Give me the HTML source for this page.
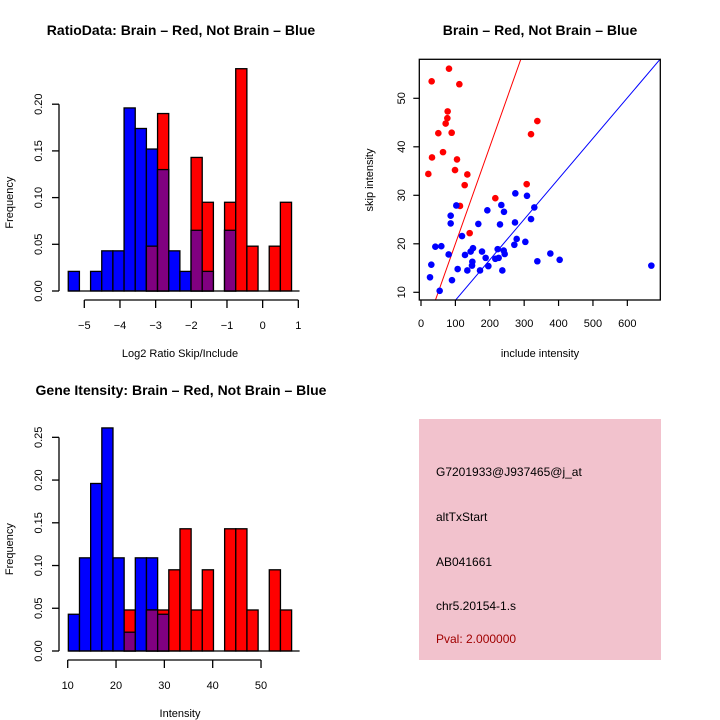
<!DOCTYPE html>
<html><head><meta charset="utf-8"><style>
body{margin:0;background:#fff}
svg{display:block;font-family:"Liberation Sans",sans-serif}
</style></head><body>
<svg id="s" width="720" height="720" viewBox="0 0 720 720">
<rect width="720" height="720" fill="#fff"/>
<g id="p1"></g>
<g id="p2"></g>
<g id="p3"></g>
<g>
<rect x="419" y="419" width="242" height="241" fill="#f2c2cd"/>
<text x="436" y="476" font-size="12">G7201933@J937465@j_at</text>
<text x="436" y="521" font-size="12">altTxStart</text>
<text x="436" y="566" font-size="12">AB041661</text>
<text x="436" y="610" font-size="12">chr5.20154-1.s</text>
<text x="436" y="643" font-size="12" fill="#a00000">Pval: 2.000000</text>
</g>
</svg>
<script>
// Histogram 1 data
const h1Blue=[0.021,0,0.021,0.043,0.043,0.196,0.174,0.152,0.13,0.043,0.021,0.065,0.021,0,0.065,0,0,0,0,0];
const h1Red=[0,0,0,0,0,0,0,0.048,0.19,0,0,0.143,0.095,0,0.095,0.238,0.048,0,0.048,0.095];
const h1Ticks=[-5,-4,-3,-2,-1,0,1];
const h1YTicks=[0,0.05,0.1,0.15,0.2];
// Histogram 2 data
const h2Blue=[0.043,0.109,0.196,0.261,0.109,0.022,0.109,0.109,0.043,0,0,0,0,0,0,0,0,0,0,0];
const h2Red=[0,0,0,0,0,0.048,0,0.048,0.048,0.095,0.143,0.048,0.095,0,0.143,0.143,0.048,0,0.095,0.048];
const h2Ticks=[10,20,30,40,50];
const h2YTicks=[0,0.05,0.1,0.15,0.2,0.25];
// Scatter data
const redX=[81.4,31,111.5,77.5,76.6,71.7,50.4,89.2,338.3,319.9,32,64,104.7,98.9,21.3,134.7,127,307.3,216.1,113.4,141.5];
const redY=[56.1,53.5,52.9,47.3,45.9,44.8,42.8,42.9,45.3,42.6,37.8,38.9,37.4,35.2,34.4,34.3,32.1,32.3,29.4,27.8,22.2];
const blueX=[26.2,30,41.7,59.1,54.3,80.4,90.1,86.3,86.3,102.7,106.6,119.2,127.9,134.7,144.4,151.2,149.3,148.3,166.7,171.6,177.4,188,192.9,195.8,216.1,223,225.8,229.7,233.6,236.5,241.3,240.4,243.3,271.4,273.3,274.3,278.2,303.4,308.2,319.9,329.5,338.3,376.1,403.2,669.8];
const blueY=[13.1,15.7,19.4,19.5,10.3,17.8,12.5,24.2,25.8,27.9,14.8,21.6,17.7,14.5,18.4,19.1,16.3,15.5,24.1,14.5,18.4,17.1,26.9,15.4,16.9,18.9,17.1,24,28,14.5,26.6,18.6,17.9,19.8,24.4,30.4,21,20.4,29.9,25.1,27.5,16.4,18,16.7,15.5];
const scXTicks=[0,100,200,300,400,500,600];
const scYTicks=[10,20,30,40,50];
const redSlope=0.2, blueSlope=0.0835;

const NS="http://www.w3.org/2000/svg";
function mk(parent,tag,attrs,txt){const e=document.createElementNS(NS,tag);for(const k in attrs)e.setAttribute(k,attrs[k]);if(txt!==undefined)e.textContent=txt;parent.appendChild(e);return e;}

function hist(g,blue,red,x0,bw,xs,ys,xTicks,yTicks,title,xlab,titleY){
  const base=ys(0);
  for(let i=0;i<blue.length;i++){
    const xa=xs(x0+i*bw), xb=xs(x0+(i+1)*bw);
    if(blue[i]>0){const r=mk(g,'rect',{x:xa,y:ys(blue[i]),width:xb-xa,height:base-ys(blue[i]),fill:'#0000ff',stroke:'#000','stroke-width':1.3});
      
      }
    if(red[i]>0){const r=mk(g,'rect',{x:xa,y:ys(red[i]),width:xb-xa,height:base-ys(red[i]),fill:'#ff0000',stroke:'#000','stroke-width':1.3});
      
      }
    const m=Math.min(blue[i],red[i]);
    if(m>0){const r=mk(g,'rect',{x:xa,y:ys(m),width:xb-xa,height:base-ys(m),fill:'#800080',stroke:'#000','stroke-width':1.3});
      
      }
  }
  mk(g,'line',{x1:xs(x0),x2:xs(x0+bw*blue.length)+8,y1:base,y2:base,stroke:'#000','stroke-width':1.3});
  // y axis
  const ya=mk(g,'g',{});
  
  
  mk(ya,'line',{x1:59,x2:59,y1:ys(yTicks[0]),y2:ys(yTicks[yTicks.length-1]),stroke:'#000','stroke-width':1.3});
  yTicks.forEach(t=>{const y=ys(t);mk(ya,'line',{x1:52,x2:59,y1:y,y2:y,stroke:'#000','stroke-width':1.3});
    const tx=mk(ya,'text',{x:0,y:0,'font-size':11,'text-anchor':'middle',transform:`translate(42,${y}) rotate(-90)`},t.toFixed(2));
    
    });
  const xa=mk(g,'g',{});
  
  
  const ay=base+9;
  mk(xa,'line',{x1:xs(xTicks[0]),x2:xs(xTicks[xTicks.length-1]),y1:ay,y2:ay,stroke:'#000','stroke-width':1.3});
  xTicks.forEach(t=>{const x=xs(t);mk(xa,'line',{x1:x,x2:x,y1:ay,y2:ay+8,stroke:'#000','stroke-width':1.3});
    const tx=mk(xa,'text',{x:x,y:ay+29,'font-size':11,'text-anchor':'middle'},t<0?'\u2212'+(-t):String(t));
    
    });
  const xl=mk(g,'text',{x:180,y:ay+57,'font-size':11,'text-anchor':'middle'},xlab);
  
  
  const yl=mk(g,'text',{x:0,y:0,'font-size':11,'text-anchor':'middle',transform:`translate(13,${(ys(0)+ys(yTicks[yTicks.length-1]))/2+5}) rotate(-90)`},'Frequency');
  
  
  const tl=mk(g,'text',{x:181,y:titleY,'font-size':14,'font-weight':'bold','text-anchor':'middle'},title);
  
  
}
// panel 1
{const xs=v=>84.3+(v+5)*35.67, ys=v=>291-v*934;
 hist(document.getElementById('p1'),h1Blue,h1Red,-5.45,0.313,xs,ys,h1Ticks,h1YTicks,'RatioData: Brain \u2013 Red, Not Brain \u2013 Blue','Log2 Ratio Skip/Include',35);}
// panel 3
{const xs=v=>67.7+(v-10)*4.833, ys=v=>651-v*854.7;
 hist(document.getElementById('p3'),h2Blue,h2Red,10.13,2.31,xs,ys,h2Ticks,h2YTicks,'Gene Itensity: Brain \u2013 Red, Not Brain \u2013 Blue','Intensity',395);}
// scatter
{const g=document.getElementById('p2');
 const xs=v=>421+v*0.3439, ys=v=>292.3-(v-10)*4.85;
 const L=419.3,R=660.3,T=59.3,B=300;
 mk(g,'defs',{}).innerHTML='<clipPath id="cp"><rect x="419.3" y="59.3" width="241" height="240.7"/></clipPath>';
 const lg=mk(g,'g',{'clip-path':'url(#cp)'});
 const rl=mk(lg,'line',{x1:xs(0),y1:ys(0),x2:xs(700),y2:ys(700*redSlope),stroke:'#ff0000','stroke-width':1});
 
 
 const bl=mk(lg,'line',{x1:xs(0),y1:ys(0),x2:xs(700),y2:ys(700*blueSlope),stroke:'#0000ff','stroke-width':1});
 
 
 redX.forEach((x,i)=>{const c=mk(g,'circle',{cx:xs(x),cy:ys(redY[i]),r:3.3,fill:'#ff0000'});
   
   });
 blueX.forEach((x,i)=>{const c=mk(g,'circle',{cx:xs(x),cy:ys(blueY[i]),r:3.3,fill:'#0000ff'});
   
   });
 mk(g,'rect',{x:L,y:T,width:R-L,height:B-T,fill:'none',stroke:'#000','stroke-width':1.3});
 scXTicks.forEach(t=>{const x=xs(t);mk(g,'line',{x1:x,x2:x,y1:B,y2:B+6,stroke:'#000','stroke-width':1.2});
   const tx=mk(g,'text',{x:x,y:327,'font-size':11,'text-anchor':'middle'},String(t));
   
   });
 scYTicks.forEach(t=>{const y=ys(t);mk(g,'line',{x1:L-6,x2:L,y1:y,y2:y,stroke:'#000','stroke-width':1.2});
   const tx=mk(g,'text',{x:0,y:0,'font-size':11,'text-anchor':'middle',transform:`translate(405,${y}) rotate(-90)`},String(t));
   
   });
 const xl=mk(g,'text',{x:540,y:357,'font-size':11,'text-anchor':'middle'},'include intensity');
 
 
 const yl=mk(g,'text',{x:0,y:0,'font-size':11,'text-anchor':'middle',transform:'translate(373,180) rotate(-90)'},'skip intensity');
 
 
 const tl=mk(g,'text',{x:540,y:35,'font-size':14,'font-weight':'bold','text-anchor':'middle'},'Brain \u2013 Red, Not Brain \u2013 Blue');
 
 }
</script>
</body></html>
